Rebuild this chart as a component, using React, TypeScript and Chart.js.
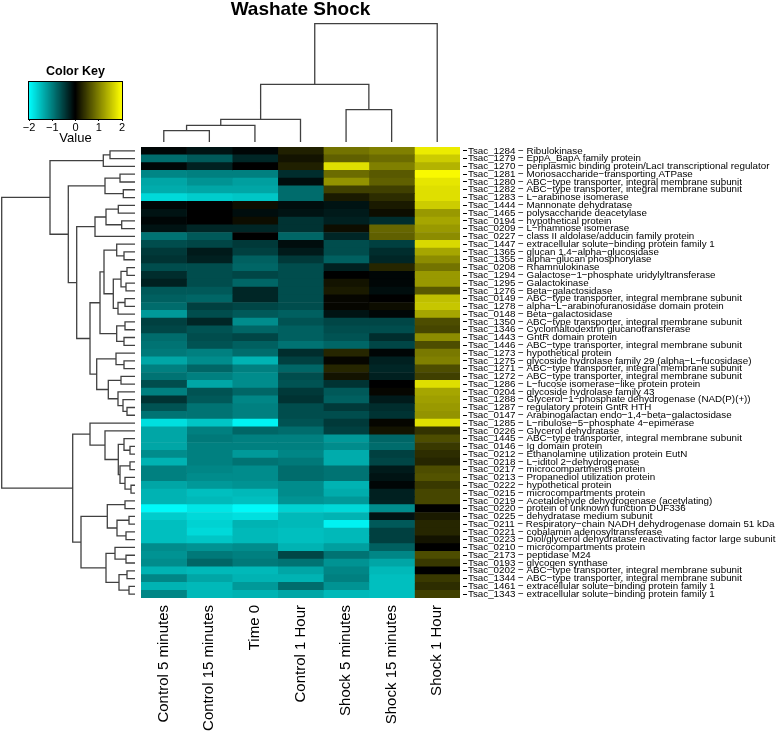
import React, { useEffect, useRef } from 'react';
import { Chart, registerables } from 'chart.js';

Chart.register(...registerables);

const FONT = '"Liberation Sans", Arial, Helvetica, sans-serif';

// ---------------- data ----------------
const columnLabels = [
  'Control 5 minutes',
  'Control 15 minutes',
  'Time 0',
  'Control 1 Hour',
  'Shock 5 minutes',
  'Shock 15 minutes',
  'Shock 1 Hour',
];

const rowLabels = [
  'Tsac_1284 − Ribulokinase',
  'Tsac_1279 − EppA_BapA family protein',
  'Tsac_1270 − periplasmic binding protein/LacI transcriptional regulator',
  'Tsac_1281 − Monosaccharide−transporting ATPase',
  'Tsac_1280 − ABC−type transporter, integral membrane subunit',
  'Tsac_1282 − ABC−type transporter, integral membrane subunit',
  'Tsac_1283 − L−arabinose isomerase',
  'Tsac_1444 − Mannonate dehydratase',
  'Tsac_1465 − polysaccharide deacetylase',
  'Tsac_0194 − hypothetical protein',
  'Tsac_0209 − L−rhamnose isomerase',
  'Tsac_0227 − class II aldolase/adducin family protein',
  'Tsac_1447 − extracellular solute−binding protein family 1',
  'Tsac_1365 − glucan 1,4−alpha−glucosidase',
  'Tsac_1355 − alpha−glucan phosphorylase',
  'Tsac_0208 − Rhamnulokinase',
  'Tsac_1294 − Galactose−1−phosphate uridylyltransferase',
  'Tsac_1295 − Galactokinase',
  'Tsac_1276 − Beta−galactosidase',
  'Tsac_0149 − ABC−type transporter, integral membrane subunit',
  'Tsac_1278 − alpha−L−arabinofuranosidase domain protein',
  'Tsac_0148 − Beta−galactosidase',
  'Tsac_1350 − ABC−type transporter, integral membrane subunit',
  'Tsac_1346 − Cyclomaltodextrin glucanotransferase',
  'Tsac_1443 − GntR domain protein',
  'Tsac_1446 − ABC−type transporter, integral membrane subunit',
  'Tsac_1273 − hypothetical protein',
  'Tsac_1275 − glycoside hydrolase family 29 (alpha−L−fucosidase)',
  'Tsac_1271 − ABC−type transporter, integral membrane subunit',
  'Tsac_1272 − ABC−type transporter, integral membrane subunit',
  'Tsac_1286 − L−fucose isomerase−like protein protein',
  'Tsac_0204 − glycoside hydrolase family 43',
  'Tsac_1288 − Glycerol−1−phosphate dehydrogenase (NAD(P)(+))',
  'Tsac_1287 − regulatory protein GntR HTH',
  'Tsac_0147 − Arabinogalactan endo−1,4−beta−galactosidase',
  'Tsac_1285 − L−ribulose−5−phosphate 4−epimerase',
  'Tsac_0226 − Glycerol dehydratase',
  'Tsac_1445 − ABC−type transporter, integral membrane subunit',
  'Tsac_0146 − Ig domain protein',
  'Tsac_0212 − Ethanolamine utilization protein EutN',
  'Tsac_0218 − L−iditol 2−dehydrogenase',
  'Tsac_0217 − microcompartments protein',
  'Tsac_0213 − Propanediol utilization protein',
  'Tsac_0222 − hypothetical protein',
  'Tsac_0215 − microcompartments protein',
  'Tsac_0219 − Acetaldehyde dehydrogenase (acetylating)',
  'Tsac_0220 − protein of unknown function DUF336',
  'Tsac_0225 − dehydratase medium subunit',
  'Tsac_0211 − Respiratory−chain NADH dehydrogenase domain 51 kDa',
  'Tsac_0221 − cobalamin adenosyltransferase',
  'Tsac_0223 − Diol/glycerol dehydratase reactivating factor large subunit',
  'Tsac_0210 − microcompartments protein',
  'Tsac_2173 − peptidase M24',
  'Tsac_0193 − glycogen synthase',
  'Tsac_0202 − ABC−type transporter, integral membrane subunit',
  'Tsac_1344 − ABC−type transporter, integral membrane subunit',
  'Tsac_1461 − extracellular solute−binding protein family 1',
  'Tsac_1343 − extracellular solute−binding protein family 1',
];

const control5min = [
  -0.05, -0.85, -0.05, -1.05, -1.3, -1.35, -1.7, -0.05, -0.15, -0.05,
  -0.15, -0.9, -0.6, -0.45, -0.4, -0.6, -0.35, -0.25, -0.7, -0.75,
  -0.85, -1.2, -0.5, -0.55, -0.85, -0.9, -0.95, -1.3, -1.0, -0.9,
  -0.6, -1.0, -0.4, -0.65, -0.9, -1.75, -1.3, -1.3, -1.3, -1.1,
  -1.4, -1.0, -1.0, -1.3, -1.4, -1.4, -1.95, -1.6, -1.5, -1.5,
  -1.5, -1.1, -1.15, -1.1, -1.4, -1.05, -1.4, -1.05,
];
const control15min = [
  -0.15, -0.7, -0.25, -1.0, -1.15, -1.3, -1.6, 0.0, 0.0, 0.0,
  -0.3, -0.7, -0.55, -0.2, -0.25, -0.6, -0.6, -0.6, -0.7, -0.8,
  -0.5, -0.6, -0.3, -0.65, -0.6, -0.65, -1.0, -1.1, -0.8, -1.0,
  -1.3, -0.65, -0.7, -0.9, -0.9, -1.55, -1.0, -0.95, -1.0, -1.0,
  -1.0, -1.05, -1.1, -1.2, -1.5, -1.45, -1.8, -1.7, -1.65, -1.7,
  -1.55, -1.15, -0.95, -0.8, -1.45, -1.3, -1.45, -1.45,
];
const time0 = [
  -0.05, -0.3, 0.0, -1.0, -1.25, -1.3, -1.55, 0.1, -0.1, 0.1,
  -0.3, 0.0, -0.45, -0.5, -0.75, -0.8, -0.55, -0.8, -0.3, -0.3,
  -0.55, -0.7, -1.1, -0.8, -0.55, -0.75, -0.85, -1.4, -1.0, -1.1,
  -1.1, -0.8, -1.05, -1.0, -1.0, -1.9, -0.8, -1.0, -1.0, -1.2,
  -0.9, -1.1, -1.1, -1.15, -1.45, -1.5, -1.95, -1.75, -1.4, -1.45,
  -1.45, -1.1, -1.0, -0.95, -1.45, -1.4, -1.2, -1.4,
];
const control1h = [
  0.25, 0.15, 0.25, -0.35, -0.1, -0.85, -0.85, -0.1, -0.15, -0.4,
  -0.4, -0.8, -0.1, -0.2, -0.45, -0.6, -0.6, -0.6, -0.6, -0.6,
  -0.6, -0.75, -0.65, -0.75, -0.75, -0.9, -0.35, -0.5, -0.8, -0.6,
  -0.65, -0.45, -0.4, -0.6, -0.6, -0.65, -0.85, -1.0, -1.0, -1.05,
  -0.95, -0.85, -0.85, -1.1, -1.1, -1.15, -1.65, -1.45, -1.45, -1.5,
  -1.5, -1.4, -0.55, -0.9, -1.3, -1.4, -0.85, -1.3,
];
const shock5min = [
  0.9, 0.75, 1.75, 0.85, 1.15, 0.5, 0.2, -0.15, -0.2, -0.25,
  0.1, -0.3, -0.6, -0.6, -0.75, -0.25, 0.0, 0.15, 0.2, 0.05,
  0.05, -0.15, -0.55, -0.6, -0.65, -0.8, 0.3, 0.05, 0.3, 0.15,
  -0.4, -0.7, -0.75, -0.45, -0.6, -0.45, -0.5, -1.2, -1.1, -1.35,
  -1.35, -0.9, -0.9, -1.4, -1.35, -1.2, -1.7, -1.4, -1.9, -1.45,
  -1.45, -1.25, -0.9, -1.15, -1.05, -1.0, -1.15, -1.45,
];
const shock15min = [
  1.0, 0.85, 1.0, 0.7, 0.75, 0.5, 0.35, 0.2, 0.1, -0.35,
  0.8, 0.75, -0.5, -0.35, -0.3, 0.3, -0.05, -0.05, -0.1, 0.0,
  0.1, -0.05, -0.55, -0.6, -0.35, -0.55, -0.05, -0.25, -0.3, -0.25,
  0.0, 0.05, -0.2, -0.35, -0.4, 0.05, 0.15, -0.8, -0.85, -0.5,
  -0.55, -0.2, -0.15, -0.05, -0.25, -0.25, -1.1, -0.15, -0.7, -0.5,
  -0.5, -0.75, -1.05, -1.3, -1.45, -1.5, -1.5, -1.5,
];
const shock1h = [
  1.85, 1.6, 1.4, 1.95, 1.8, 1.75, 1.75, 1.6, 1.2, 1.3,
  1.2, 1.1, 1.7, 1.3, 1.1, 0.9, 1.2, 1.2, 0.7, 1.5,
  1.55, 1.3, 0.6, 0.55, 1.1, 0.6, 0.95, 1.0, 0.6, 0.5,
  1.75, 1.3, 1.25, 1.2, 1.15, 1.75, 0.4, 0.6, 0.45, 0.35,
  0.3, 0.6, 0.65, 0.45, 0.55, 0.55, 0.0, 0.2, 0.3, 0.3,
  0.15, 0.0, 0.6, 0.45, 0.0, 0.45, 0.35, 0.5,
];

const columnValues = [control5min, control15min, time0, control1h, shock5min, shock15min, shock1h];

// Dendrograms: [height, left, right]; leaves are row / column indices
type Tree = number | [number, Tree, Tree];

const columnTree: Tree = [118.3, [57.7, [22.7, [16.7, [11.3, 0, 1], 2], 3], [32.3, 4, 5]], 6];

const rowTreeTop: Tree = [85,
  [31.7, [25, 0, 1], 2],
  [66.7,
    [30, [15, 3, 4], [11.7, 5, 6]],
    [58.3,
      [40, [29, [16.7, 7, 8], [13.3, 9, 10]], 11],
      [45,
        [35,
          [31, [18.3, 12, [11, 13, 14]], [21.7, [14, [8, 15, 16], [9, 17, 18]], [17, [10, 19, 20], 21]]],
          [18.3, [10, 22, 23], [11, 24, 25]]],
        [38.3,
          [19, 26, [11, 27, 28]],
          [26.7, [14, 29, 30], [17, 31, [12, 32, [8, 33, 34]]]]]]]]];

const rowTreeBottom: Tree = [62.3,
  [45, 35, [30, 36, [16.7, [11, 37, [5, 38, 39]], [15, [5, 40, 41], [10, 42, [4, 43, 44]]]]]],
  [54,
    [27.7, [10, 45, 46], [18, [6, 47, 48], [9, 49, 50]]],
    [29, [20, 51, [9, 52, 53]], [16, [8, 54, 55], [6, 56, 57]]]]];

const rowTree: Tree = [133.3, rowTreeTop, rowTreeBottom];

const keyTicks = [-2, -1, 0, 1, 2];

// ---------------- helpers ----------------
function heatColor(v: number): string {
  const t = Math.max(-1, Math.min(1, v / 2));
  if (t < 0) {
    const c = Math.round(-t * 255);
    return `rgb(0,${c},${c})`;
  }
  const c = Math.round(t * 255);
  return `rgb(${c},${c},0)`;
}

function dendroPoints(tree: Tree, rows: boolean) {
  const pts: { x: number; y: number }[] = [];
  const walk = (n: Tree): { pos: number; h: number } => {
    if (typeof n === 'number') return { pos: n + 0.5, h: 0 };
    const [h, l, r] = n;
    const a = walk(l);
    const b = walk(r);
    const seg: [number, number][] = [[a.pos, a.h], [a.pos, h], [b.pos, h], [b.pos, b.h]];
    for (const [p, hh] of seg) pts.push(rows ? { x: hh, y: p } : { x: p, y: hh });
    pts.push({ x: NaN, y: NaN });
    return { pos: (a.pos + b.pos) / 2, h };
  };
  walk(tree);
  return pts;
}

const fmtMinus = (v: number) => (v < 0 ? '−' + Math.abs(v) : String(v));

const framePlugin = {
  id: 'frame',
  afterDatasetsDraw(chart: any) {
    const { ctx, chartArea: a } = chart;
    ctx.save();
    ctx.strokeStyle = '#000';
    ctx.lineWidth = 1;
    ctx.strokeRect(a.left - 0.5, a.top - 0.5, a.right - a.left + 1, a.bottom - a.top + 1);
    ctx.restore();
  },
};

const noInteract = {
  responsive: false,
  animation: false as const,
  events: [] as any[],
};

export default function App() {
  const heatRef = useRef<HTMLCanvasElement>(null);
  const rowRef = useRef<HTMLCanvasElement>(null);
  const colRef = useRef<HTMLCanvasElement>(null);
  const keyRef = useRef<HTMLCanvasElement>(null);

  useEffect(() => {
    Chart.defaults.font.family = FONT;
    Chart.defaults.color = '#000';
    const charts: Chart[] = [];

    // Heatmap
    charts.push(
      new Chart(heatRef.current!, {
        type: 'bar',
        data: {
          datasets: columnValues.map((vals, c) => ({
            label: columnLabels[c],
            data: vals.map((_, r) => ({ x: [c, c + 1], y: r + 0.5 })) as any,
            backgroundColor: vals.map(heatColor),
            borderWidth: 0,
            grouped: false,
            barPercentage: 1,
            categoryPercentage: 1,
          })),
        },
        options: {
          ...noInteract,
          indexAxis: 'y',
          layout: { padding: { top: 8, left: 0, right: 0, bottom: 0 } },
          plugins: { legend: { display: false }, tooltip: { enabled: false }, title: { display: false } },
          scales: {
            x: {
              type: 'linear',
              position: 'bottom',
              min: 0,
              max: 7,
              offset: false,
              grid: { display: false, drawTicks: false, offset: false },
              border: { display: false },
              afterBuildTicks: (s: any) => {
                s.ticks = columnLabels.map((_, i) => ({ value: i + 0.5 }));
              },
              ticks: {
                autoSkip: false,
                minRotation: 90,
                maxRotation: 90,
                padding: 7,
                color: '#000',
                font: { size: 15, family: FONT },
                callback: (_v: any, i: number) => columnLabels[i],
              },
              afterFit: (s: any) => {
                s.height = 136;
              },
            },
            y: {
              type: 'linear',
              position: 'right',
              min: 0,
              max: 58,
              reverse: true,
              offset: false,
              grid: {
                display: true,
                drawOnChartArea: false,
                drawTicks: true,
                tickLength: 7,
                tickBorderDash: [0, 3, 4],
                tickColor: '#000',
                tickWidth: 1,
                offset: false,
              },
              border: { display: false },
              afterBuildTicks: (s: any) => {
                s.ticks = rowLabels.map((_, i) => ({ value: i + 0.5 }));
              },
              ticks: {
                autoSkip: false,
                padding: 1,
                color: '#000',
                font: { size: 9.8, family: FONT },
                callback: (_v: any, i: number) => rowLabels[i],
              },
              afterFit: (s: any) => {
                s.width = 318;
              },
            },
          },
        } as any,
      })
    );

    // Row dendrogram
    charts.push(
      new Chart(rowRef.current!, {
        type: 'scatter',
        data: {
          datasets: [
            {
              data: dendroPoints(rowTree, true),
              showLine: true,
              borderColor: '#404040',
              borderWidth: 1.3,
              pointRadius: 0,
              spanGaps: false,
              clip: false,
            } as any,
          ],
        },
        options: {
          ...noInteract,
          layout: { padding: 0 },
          plugins: { legend: { display: false }, tooltip: { enabled: false } },
          scales: {
            x: { type: 'linear', min: 0, max: 135, reverse: true, display: false },
            y: { type: 'linear', min: 0, max: 58, reverse: true, display: false },
          },
        } as any,
      })
    );

    // Column dendrogram + title
    charts.push(
      new Chart(colRef.current!, {
        type: 'scatter',
        data: {
          datasets: [
            {
              data: dendroPoints(columnTree, false),
              showLine: true,
              borderColor: '#404040',
              borderWidth: 1.3,
              pointRadius: 0,
              spanGaps: false,
              clip: false,
            } as any,
          ],
        },
        options: {
          ...noInteract,
          layout: { padding: 0 },
          plugins: {
            legend: { display: false },
            tooltip: { enabled: false },
            title: {
              display: true,
              text: 'Washate Shock',
              color: '#000',
              font: { size: 19, weight: 'bold', family: FONT, lineHeight: 1 },
              padding: { top: 0, bottom: 4.7 },
            },
          },
          scales: {
            x: { type: 'linear', min: 0, max: 7, display: false },
            y: { type: 'linear', min: 0, max: 118.3, display: false },
          },
        } as any,
      })
    );

    // Color key
    const nBins = 93;
    const keyBins: number[] = [];
    for (let k = 0; k < nBins; k++) keyBins.push(-2 + ((k + 0.5) * 4) / nBins);
    charts.push(
      new Chart(keyRef.current!, {
        type: 'bar',
        data: {
          datasets: [
            {
              data: keyBins.map((b) => ({ x: b, y: [0, 1] })) as any,
              backgroundColor: keyBins.map(heatColor),
              borderWidth: 0,
              barPercentage: 1,
              categoryPercentage: 1,
            },
          ],
        },
        options: {
          ...noInteract,
          layout: { padding: { left: 9, right: 10, top: 0, bottom: 0 } },
          plugins: {
            legend: { display: false },
            tooltip: { enabled: false },
            title: {
              display: true,
              text: 'Color Key',
              color: '#000',
              font: { size: 12.5, weight: 'bold', family: FONT, lineHeight: 1.2 },
              padding: { top: 0, bottom: 3 },
            },
          },
          scales: {
            x: {
              type: 'linear',
              min: -2,
              max: 2,
              offset: false,
              grid: { drawOnChartArea: false, drawTicks: true, tickLength: 2, color: '#000', offset: false },
              border: { display: false },
              afterBuildTicks: (s: any) => {
                s.ticks = keyTicks.map((v) => ({ value: v }));
              },
              ticks: {
                padding: 0,
                color: '#000',
                font: { size: 11, family: FONT },
                callback: (v: any) => fmtMinus(Number(v)),
              },
              title: { display: true, text: 'Value', color: '#000', font: { size: 13, family: FONT }, padding: 0 },
              afterFit: (s: any) => {
                s.height = 27;
              },
            },
            y: { type: 'linear', min: 0, max: 1, display: false, offset: false },
          },
        } as any,
        plugins: [framePlugin],
      })
    );

    return () => charts.forEach((c) => c.destroy());
  }, []);

  const abs = (left: number, top: number, width: number, height: number): React.CSSProperties => ({
    position: 'absolute',
    left,
    top,
    width,
    height,
  });

  return (
    <div style={{ position: 'absolute', left: 0, top: 0, width: 778, height: 734, background: '#fff', overflow: 'hidden' }}>
      <canvas ref={colRef} width={319} height={142} style={abs(141, 0, 319, 142)} />
      <canvas ref={keyRef} width={112} height={82} style={abs(20, 64, 112, 82)} />
      <canvas ref={rowRef} width={135} height={451} style={abs(0, 147, 135, 451)} />
      <canvas ref={heatRef} width={637} height={595} style={abs(141, 139, 637, 595)} />
    </div>
  );
}
